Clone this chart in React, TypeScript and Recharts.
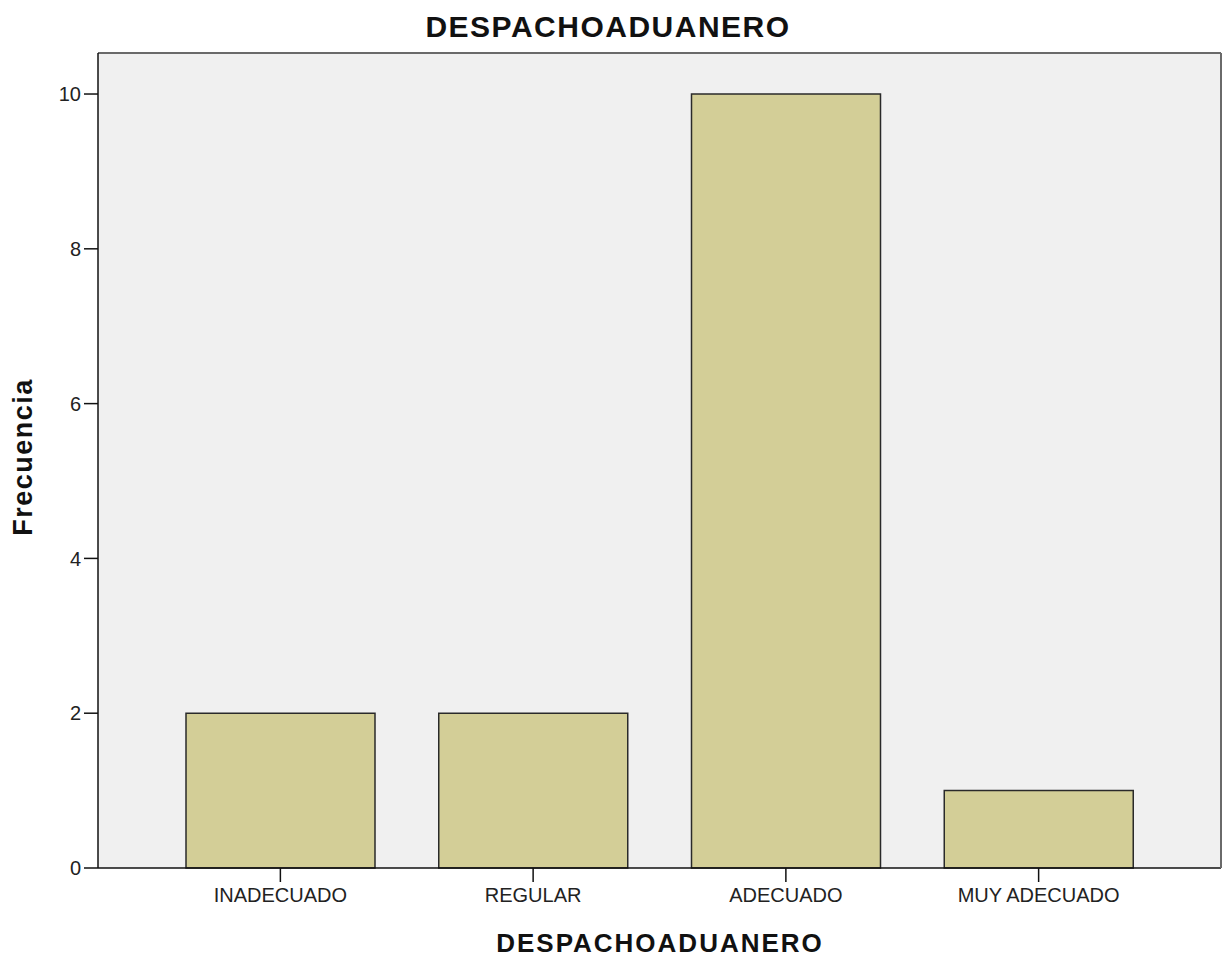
import React from "react";
import { BarChart, Bar, XAxis, YAxis, CartesianGrid } from "recharts";

const categories = ["INADECUADO", "REGULAR", "ADECUADO", "MUY ADECUADO"];
const frecuencia = [2, 2, 10, 1];
const yTicks = [0, 2, 4, 6, 8, 10];
const yMax = 10.53;

const data = categories.map((c, i) => ({ name: c, value: frecuencia[i] }));

const font = "'Liberation Sans', Arial, sans-serif";

export default function App() {
  return (
    <div
      style={{
        position: "absolute",
        left: 0,
        top: 0,
        width: 1230,
        height: 957,
        background: "#fff",
        fontFamily: font,
      }}
    >
      <BarChart
        width={1230}
        height={957}
        data={data}
        margin={{ top: 52, right: 8, bottom: 0, left: 38 }}
      >
        <CartesianGrid horizontal={false} vertical={false} fill="#F0F0F0" />
        <XAxis
          dataKey="name"
          height={89}
          padding={{ left: 56, right: 56 }}
          tickSize={14}
          tickMargin={6}
          axisLine={{ stroke: "#111", strokeWidth: 1.5 }}
          tickLine={{ stroke: "#111", strokeWidth: 1.5 }}
          tick={{ fill: "#222", fontSize: 20, fontFamily: font }}
        />
        <XAxis
          xAxisId="top"
          orientation="top"
          dataKey="name"
          height={1}
          padding={{ left: 56, right: 56 }}
          tick={false}
          tickLine={false}
          axisLine={{ stroke: "#6a6a6a", strokeWidth: 2 }}
        />
        <YAxis
          width={60}
          domain={[0, yMax]}
          ticks={yTicks}
          tickSize={14}
          tickMargin={3}
          axisLine={{ stroke: "#111", strokeWidth: 1.5 }}
          tickLine={{ stroke: "#111", strokeWidth: 1.5 }}
          tick={{ fill: "#222", fontSize: 20, fontFamily: font }}
        />
        <YAxis
          yAxisId="right"
          orientation="right"
          width={1}
          domain={[0, yMax]}
          tick={false}
          tickLine={false}
          axisLine={{ stroke: "#6a6a6a", strokeWidth: 2 }}
        />
        <Bar
          dataKey="value"
          barSize={189}
          fill="#D3CE97"
          stroke="#2a2a2a"
          strokeWidth={1.5}
          isAnimationActive={false}
        />
      </BarChart>

      {/* titulo */}
      <div
        style={{
          position: "absolute",
          left: 608,
          top: 27,
          transform: "translate(-50%, -50%)",
          fontSize: 30,
          fontWeight: "bold",
          letterSpacing: 1.5,
          lineHeight: 1,
          whiteSpace: "nowrap",
          color: "#111",
        }}
      >
        DESPACHOADUANERO
      </div>

      <div
        style={{
          position: "absolute",
          left: 660,
          top: 943,
          transform: "translate(-50%, -50%)",
          fontSize: 26,
          fontWeight: "bold",
          letterSpacing: 2,
          lineHeight: 1,
          whiteSpace: "nowrap",
          color: "#111",
        }}
      >
        DESPACHOADUANERO
      </div>

      <div
        style={{
          position: "absolute",
          left: 23,
          top: 457,
          transform: "translate(-50%, -50%) rotate(-90deg)",
          fontSize: 27,
          fontWeight: "bold",
          letterSpacing: 1.5,
          lineHeight: 1,
          whiteSpace: "nowrap",
          color: "#111",
        }}
      >
        Frecuencia
      </div>
    </div>
  );
}
